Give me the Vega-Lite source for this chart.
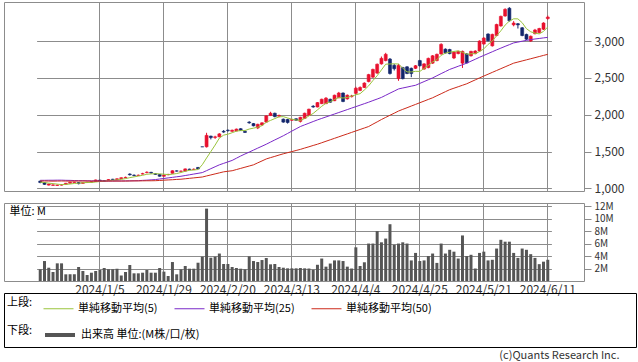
{
  "$schema": "https://vega.github.io/schema/vega-lite/v6.json",
  "background": "white",
  "padding": {"left": 3, "top": 1, "right": 0, "bottom": 0},
  "bounds": "flush",
  "spacing": 12,
  "config": {
    "font": "Noto Sans CJK JP",
    "view": {"stroke": "#8c8c8c", "strokeWidth": 1},
    "axis": {"gridColor": "#8c8c8c", "gridOpacity": 1, "gridWidth": 1, "tickColor": "#8c8c8c", "labelColor": "#333333", "labelFont": "Noto Sans CJK JP", "labelFontSize": 11, "domain": false},
    "legend": {"labelFont": "Noto Sans CJK JP", "labelFontSize": 11, "labelColor": "#000000", "titleFont": "Noto Sans CJK JP", "titleFontSize": 11, "titleFontWeight": "normal", "titleColor": "#000000", "padding": 0}
  },
  "title": {"text": "(c)Quants Research Inc.", "orient": "bottom", "anchor": "end", "fontSize": 11, "fontWeight": "normal", "color": "#333333", "offset": 2, "dx": -17},
  "data": {"values": [
    {"d":"2023/12/13","o":1100,"c":1080,"h":1105,"l":1070,"v":1.87,"ma5":1085,"ma25":1110,"ma50":1100},
    {"d":"2023/12/14","o":1080,"c":1055,"h":1085,"l":1050,"v":3.2,"ma5":1080,"ma25":1110,"ma50":1101},
    {"d":"2023/12/15","o":1045,"c":1060,"h":1065,"l":1040,"v":2.13,"ma5":1072,"ma25":1111,"ma50":1100},
    {"d":"2023/12/18","o":1042,"c":1048,"h":1055,"l":1035,"v":1.44,"ma5":1065,"ma25":1111,"ma50":1099},
    {"d":"2023/12/19","o":1040,"c":1045,"h":1052,"l":1035,"v":2.83,"ma5":1058,"ma25":1112,"ma50":1100},
    {"d":"2023/12/20","o":1045,"c":1050,"h":1058,"l":1040,"v":2.83,"ma5":1052,"ma25":1112,"ma50":1101},
    {"d":"2023/12/21","o":1055,"c":1070,"h":1075,"l":1050,"v":1.07,"ma5":1055,"ma25":1110,"ma50":1100},
    {"d":"2023/12/22","o":1070,"c":1085,"h":1090,"l":1065,"v":1.07,"ma5":1060,"ma25":1109,"ma50":1099},
    {"d":"2023/12/25","o":1082,"c":1086,"h":1092,"l":1078,"v":1.07,"ma5":1067,"ma25":1107,"ma50":1100},
    {"d":"2023/12/26","o":1080,"c":1065,"h":1085,"l":1055,"v":2.24,"ma5":1071,"ma25":1106,"ma50":1100},
    {"d":"2023/12/27","o":1068,"c":1080,"h":1085,"l":1065,"v":1.6,"ma5":1077,"ma25":1105,"ma50":1101},
    {"d":"2023/12/28","o":1080,"c":1085,"h":1090,"l":1075,"v":0.96,"ma5":1080,"ma25":1104,"ma50":1100},
    {"d":"2023/12/29","o":1084,"c":1090,"h":1095,"l":1080,"v":1.33,"ma5":1081,"ma25":1103,"ma50":1099},
    {"d":"2024/1/4","o":1095,"c":1115,"h":1120,"l":1090,"v":1.6,"ma5":1087,"ma25":1102,"ma50":1100},
    {"d":"2024/1/5","o":1112,"c":1100,"h":1118,"l":1095,"v":1.76,"ma5":1094,"ma25":1101,"ma50":1100},
    {"d":"2024/1/9","o":1105,"c":1100,"h":1110,"l":1095,"v":2.08,"ma5":1098,"ma25":1100,"ma50":1100},
    {"d":"2024/1/10","o":1105,"c":1120,"h":1125,"l":1100,"v":1.87,"ma5":1105,"ma25":1100,"ma50":1100},
    {"d":"2024/1/11","o":1125,"c":1120,"h":1130,"l":1115,"v":1.87,"ma5":1111,"ma25":1100,"ma50":1100},
    {"d":"2024/1/12","o":1120,"c":1130,"h":1138,"l":1115,"v":1.97,"ma5":1114,"ma25":1101,"ma50":1100},
    {"d":"2024/1/15","o":1132,"c":1145,"h":1150,"l":1128,"v":0.9,"ma5":1123,"ma25":1101,"ma50":1100},
    {"d":"2024/1/16","o":1145,"c":1150,"h":1160,"l":1140,"v":1.44,"ma5":1133,"ma25":1102,"ma50":1100},
    {"d":"2024/1/17","o":1195,"c":1185,"h":1205,"l":1175,"v":2.56,"ma5":1146,"ma25":1103,"ma50":1101},
    {"d":"2024/1/18","o":1180,"c":1175,"h":1190,"l":1165,"v":1.23,"ma5":1157,"ma25":1104,"ma50":1102},
    {"d":"2024/1/19","o":1175,"c":1180,"h":1188,"l":1170,"v":1.23,"ma5":1167,"ma25":1105,"ma50":1102},
    {"d":"2024/1/22","o":1195,"c":1200,"h":1212,"l":1190,"v":1.33,"ma5":1178,"ma25":1109,"ma50":1103},
    {"d":"2024/1/23","o":1215,"c":1220,"h":1232,"l":1205,"v":1.76,"ma5":1192,"ma25":1112,"ma50":1104},
    {"d":"2024/1/24","o":1218,"c":1210,"h":1225,"l":1200,"v":1.33,"ma5":1197,"ma25":1116,"ma50":1104},
    {"d":"2024/1/25","o":1200,"c":1190,"h":1208,"l":1185,"v":1.33,"ma5":1200,"ma25":1120,"ma50":1105},
    {"d":"2024/1/26","o":1190,"c":1165,"h":1195,"l":1160,"v":2.08,"ma5":1197,"ma25":1128,"ma50":1108},
    {"d":"2024/1/29","o":1165,"c":1180,"h":1188,"l":1160,"v":1.5,"ma5":1193,"ma25":1135,"ma50":1112},
    {"d":"2024/1/30","o":1185,"c":1190,"h":1198,"l":1180,"v":0.8,"ma5":1187,"ma25":1143,"ma50":1115},
    {"d":"2024/1/31","o":1205,"c":1240,"h":1245,"l":1200,"v":3.04,"ma5":1193,"ma25":1150,"ma50":1118},
    {"d":"2024/2/1","o":1238,"c":1235,"h":1245,"l":1228,"v":1.07,"ma5":1202,"ma25":1158,"ma50":1122},
    {"d":"2024/2/2","o":1232,"c":1235,"h":1242,"l":1225,"v":1.87,"ma5":1216,"ma25":1165,"ma50":1125},
    {"d":"2024/2/5","o":1235,"c":1265,"h":1270,"l":1230,"v":2.4,"ma5":1233,"ma25":1175,"ma50":1131},
    {"d":"2024/2/6","o":1262,"c":1255,"h":1268,"l":1248,"v":1.97,"ma5":1246,"ma25":1185,"ma50":1137},
    {"d":"2024/2/7","o":1256,"c":1260,"h":1272,"l":1250,"v":1.97,"ma5":1250,"ma25":1195,"ma50":1143},
    {"d":"2024/2/8","o":1285,"c":1265,"h":1290,"l":1260,"v":2.93,"ma5":1256,"ma25":1205,"ma50":1149},
    {"d":"2024/2/9","o":1565,"c":1565,"h":1565,"l":1565,"v":3.9,"ma5":1322,"ma25":1215,"ma50":1155},
    {"d":"2024/2/13","o":1565,"c":1720,"h":1755,"l":1555,"v":11.6,"ma5":1413,"ma25":1241,"ma50":1169},
    {"d":"2024/2/14","o":1710,"c":1690,"h":1715,"l":1665,"v":3.73,"ma5":1500,"ma25":1268,"ma50":1183},
    {"d":"2024/2/15","o":1692,"c":1700,"h":1715,"l":1672,"v":3.9,"ma5":1588,"ma25":1294,"ma50":1197},
    {"d":"2024/2/16","o":1700,"c":1740,"h":1750,"l":1695,"v":4.4,"ma5":1683,"ma25":1320,"ma50":1211},
    {"d":"2024/2/19","o":1775,"c":1765,"h":1792,"l":1755,"v":2.72,"ma5":1723,"ma25":1340,"ma50":1225},
    {"d":"2024/2/20","o":1790,"c":1785,"h":1800,"l":1770,"v":2.72,"ma5":1736,"ma25":1360,"ma50":1233},
    {"d":"2024/2/21","o":1775,"c":1790,"h":1798,"l":1768,"v":2.24,"ma5":1756,"ma25":1380,"ma50":1240},
    {"d":"2024/2/22","o":1780,"c":1805,"h":1812,"l":1775,"v":2.08,"ma5":1777,"ma25":1410,"ma50":1256},
    {"d":"2024/2/26","o":1810,"c":1785,"h":1818,"l":1780,"v":1.97,"ma5":1786,"ma25":1440,"ma50":1272},
    {"d":"2024/2/27","o":1775,"c":1760,"h":1785,"l":1752,"v":1.87,"ma5":1785,"ma25":1467,"ma50":1288},
    {"d":"2024/2/28","o":1900,"c":1890,"h":1912,"l":1878,"v":3.95,"ma5":1806,"ma25":1493,"ma50":1304},
    {"d":"2024/2/29","o":1880,"c":1850,"h":1888,"l":1842,"v":3.2,"ma5":1818,"ma25":1520,"ma50":1320},
    {"d":"2024/3/1","o":1820,"c":1870,"h":1878,"l":1805,"v":3.04,"ma5":1831,"ma25":1547,"ma50":1347},
    {"d":"2024/3/4","o":1860,"c":1890,"h":1898,"l":1852,"v":3.36,"ma5":1852,"ma25":1573,"ma50":1373},
    {"d":"2024/3/5","o":1900,"c":1985,"h":1992,"l":1895,"v":3.68,"ma5":1897,"ma25":1600,"ma50":1400},
    {"d":"2024/3/6","o":1990,"c":2020,"h":2040,"l":1982,"v":2.67,"ma5":1923,"ma25":1629,"ma50":1418},
    {"d":"2024/3/7","o":2020,"c":1975,"h":2028,"l":1965,"v":2.72,"ma5":1948,"ma25":1658,"ma50":1435},
    {"d":"2024/3/8","o":1980,"c":1990,"h":2002,"l":1965,"v":2.24,"ma5":1972,"ma25":1686,"ma50":1453},
    {"d":"2024/3/11","o":1940,"c":1900,"h":1948,"l":1892,"v":2.13,"ma5":1974,"ma25":1715,"ma50":1470},
    {"d":"2024/3/12","o":1935,"c":1895,"h":1945,"l":1880,"v":2.03,"ma5":1956,"ma25":1746,"ma50":1485},
    {"d":"2024/3/13","o":1925,"c":1935,"h":1945,"l":1915,"v":2.03,"ma5":1939,"ma25":1778,"ma50":1500},
    {"d":"2024/3/14","o":1945,"c":1925,"h":1952,"l":1918,"v":2.03,"ma5":1929,"ma25":1809,"ma50":1515},
    {"d":"2024/3/15","o":1910,"c":1965,"h":1972,"l":1895,"v":2.08,"ma5":1924,"ma25":1840,"ma50":1530},
    {"d":"2024/3/18","o":1950,"c":2020,"h":2028,"l":1945,"v":2.03,"ma5":1948,"ma25":1863,"ma50":1548},
    {"d":"2024/3/19","o":1990,"c":2075,"h":2082,"l":1985,"v":2.0,"ma5":1984,"ma25":1885,"ma50":1565},
    {"d":"2024/3/21","o":2115,"c":2105,"h":2130,"l":2095,"v":1.8,"ma5":2018,"ma25":1908,"ma50":1583},
    {"d":"2024/3/22","o":2105,"c":2165,"h":2172,"l":2100,"v":2.6,"ma5":2066,"ma25":1930,"ma50":1600},
    {"d":"2024/3/25","o":2150,"c":2210,"h":2218,"l":2145,"v":3.6,"ma5":2115,"ma25":1950,"ma50":1620},
    {"d":"2024/3/26","o":2150,"c":2225,"h":2240,"l":2145,"v":2.3,"ma5":2156,"ma25":1970,"ma50":1640},
    {"d":"2024/3/27","o":2210,"c":2170,"h":2218,"l":2162,"v":2.8,"ma5":2175,"ma25":1990,"ma50":1660},
    {"d":"2024/3/28","o":2190,"c":2265,"h":2272,"l":2185,"v":3.3,"ma5":2207,"ma25":2010,"ma50":1680},
    {"d":"2024/3/29","o":2230,"c":2295,"h":2310,"l":2225,"v":3.3,"ma5":2233,"ma25":2030,"ma50":1700},
    {"d":"2024/4/1","o":2295,"c":2180,"h":2302,"l":2170,"v":3.2,"ma5":2227,"ma25":2050,"ma50":1720},
    {"d":"2024/4/2","o":2215,"c":2265,"h":2275,"l":2205,"v":2.3,"ma5":2235,"ma25":2070,"ma50":1740},
    {"d":"2024/4/3","o":2245,"c":2255,"h":2270,"l":2235,"v":2.0,"ma5":2252,"ma25":2090,"ma50":1760},
    {"d":"2024/4/4","o":2290,"c":2360,"h":2380,"l":2280,"v":5.4,"ma5":2271,"ma25":2110,"ma50":1780},
    {"d":"2024/4/5","o":2330,"c":2370,"h":2385,"l":2320,"v":2.4,"ma5":2286,"ma25":2130,"ma50":1800},
    {"d":"2024/4/8","o":2370,"c":2430,"h":2440,"l":2362,"v":3.0,"ma5":2336,"ma25":2150,"ma50":1820},
    {"d":"2024/4/9","o":2450,"c":2545,"h":2555,"l":2440,"v":6.0,"ma5":2392,"ma25":2170,"ma50":1840},
    {"d":"2024/4/10","o":2510,"c":2615,"h":2625,"l":2500,"v":6.0,"ma5":2464,"ma25":2192,"ma50":1872},
    {"d":"2024/4/11","o":2565,"c":2685,"h":2695,"l":2555,"v":8.0,"ma5":2529,"ma25":2213,"ma50":1903},
    {"d":"2024/4/12","o":2690,"c":2765,"h":2790,"l":2680,"v":6.2,"ma5":2608,"ma25":2235,"ma50":1935},
    {"d":"2024/4/15","o":2735,"c":2820,"h":2840,"l":2725,"v":6.8,"ma5":2686,"ma25":2264,"ma50":1964},
    {"d":"2024/4/16","o":2755,"c":2560,"h":2770,"l":2545,"v":9.1,"ma5":2689,"ma25":2293,"ma50":1993},
    {"d":"2024/4/17","o":2670,"c":2625,"h":2690,"l":2600,"v":5.8,"ma5":2691,"ma25":2321,"ma50":2021},
    {"d":"2024/4/18","o":2490,"c":2670,"h":2690,"l":2460,"v":6.0,"ma5":2688,"ma25":2350,"ma50":2050},
    {"d":"2024/4/19","o":2640,"c":2490,"h":2650,"l":2480,"v":6.2,"ma5":2633,"ma25":2363,"ma50":2073},
    {"d":"2024/4/22","o":2650,"c":2560,"h":2660,"l":2550,"v":6.0,"ma5":2581,"ma25":2375,"ma50":2095},
    {"d":"2024/4/23","o":2630,"c":2560,"h":2640,"l":2510,"v":3.3,"ma5":2581,"ma25":2388,"ma50":2118},
    {"d":"2024/4/24","o":2630,"c":2665,"h":2675,"l":2620,"v":4.5,"ma5":2589,"ma25":2400,"ma50":2140},
    {"d":"2024/4/25","o":2735,"c":2665,"h":2745,"l":2655,"v":3.2,"ma5":2588,"ma25":2425,"ma50":2163},
    {"d":"2024/4/26","o":2620,"c":2690,"h":2700,"l":2610,"v":3.3,"ma5":2628,"ma25":2450,"ma50":2185},
    {"d":"2024/4/30","o":2640,"c":2765,"h":2775,"l":2630,"v":4.0,"ma5":2669,"ma25":2475,"ma50":2208},
    {"d":"2024/5/1","o":2700,"c":2800,"h":2810,"l":2690,"v":4.4,"ma5":2717,"ma25":2500,"ma50":2230},
    {"d":"2024/5/2","o":2735,"c":2820,"h":2830,"l":2725,"v":2.9,"ma5":2748,"ma25":2529,"ma50":2258},
    {"d":"2024/5/7","o":2825,"c":2955,"h":2970,"l":2815,"v":6.0,"ma5":2806,"ma25":2558,"ma50":2285},
    {"d":"2024/5/8","o":2890,"c":2840,"h":2900,"l":2830,"v":4.4,"ma5":2836,"ma25":2586,"ma50":2313},
    {"d":"2024/5/9","o":2885,"c":2830,"h":2895,"l":2820,"v":5.0,"ma5":2849,"ma25":2615,"ma50":2340},
    {"d":"2024/5/10","o":2770,"c":2850,"h":2858,"l":2755,"v":4.7,"ma5":2859,"ma25":2636,"ma50":2360},
    {"d":"2024/5/13","o":2830,"c":2860,"h":2868,"l":2820,"v":3.6,"ma5":2867,"ma25":2658,"ma50":2380},
    {"d":"2024/5/14","o":2700,"c":2860,"h":2870,"l":2635,"v":7.3,"ma5":2848,"ma25":2679,"ma50":2400},
    {"d":"2024/5/15","o":2825,"c":2705,"h":2835,"l":2695,"v":4.0,"ma5":2821,"ma25":2700,"ma50":2420},
    {"d":"2024/5/16","o":2800,"c":2860,"h":2868,"l":2790,"v":4.2,"ma5":2827,"ma25":2727,"ma50":2447},
    {"d":"2024/5/17","o":2830,"c":2865,"h":2875,"l":2820,"v":2.0,"ma5":2830,"ma25":2753,"ma50":2473},
    {"d":"2024/5/20","o":2865,"c":3000,"h":3010,"l":2858,"v":4.5,"ma5":2858,"ma25":2780,"ma50":2500},
    {"d":"2024/5/21","o":2960,"c":3040,"h":3055,"l":2950,"v":4.7,"ma5":2894,"ma25":2805,"ma50":2525},
    {"d":"2024/5/22","o":3095,"c":3005,"h":3105,"l":2995,"v":3.3,"ma5":2954,"ma25":2830,"ma50":2550},
    {"d":"2024/5/23","o":2935,"c":3090,"h":3100,"l":2925,"v":3.4,"ma5":3000,"ma25":2855,"ma50":2575},
    {"d":"2024/5/24","o":3075,"c":3225,"h":3235,"l":3065,"v":5.2,"ma5":3072,"ma25":2880,"ma50":2600},
    {"d":"2024/5/27","o":3205,"c":3335,"h":3345,"l":3195,"v":6.6,"ma5":3139,"ma25":2904,"ma50":2625},
    {"d":"2024/5/28","o":3340,"c":3430,"h":3445,"l":3330,"v":6.3,"ma5":3217,"ma25":2928,"ma50":2650},
    {"d":"2024/5/29","o":3445,"c":3275,"h":3460,"l":3265,"v":6.3,"ma5":3271,"ma25":2951,"ma50":2675},
    {"d":"2024/5/30","o":3220,"c":3245,"h":3270,"l":3200,"v":4.5,"ma5":3302,"ma25":2975,"ma50":2700},
    {"d":"2024/5/31","o":3235,"c":3220,"h":3245,"l":3170,"v":3.7,"ma5":3301,"ma25":2986,"ma50":2715},
    {"d":"2024/6/3","o":3180,"c":3075,"h":3190,"l":3065,"v":5.2,"ma5":3249,"ma25":2998,"ma50":2730},
    {"d":"2024/6/4","o":3090,"c":3025,"h":3100,"l":3015,"v":5.0,"ma5":3168,"ma25":3009,"ma50":2745},
    {"d":"2024/6/5","o":3000,"c":3065,"h":3075,"l":2990,"v":4.3,"ma5":3126,"ma25":3020,"ma50":2760},
    {"d":"2024/6/6","o":3100,"c":3150,"h":3165,"l":3090,"v":3.7,"ma5":3107,"ma25":3028,"ma50":2775},
    {"d":"2024/6/7","o":3115,"c":3170,"h":3180,"l":3105,"v":2.7,"ma5":3097,"ma25":3035,"ma50":2790},
    {"d":"2024/6/10","o":3160,"c":3245,"h":3255,"l":3150,"v":3.1,"ma5":3131,"ma25":3043,"ma50":2805},
    {"d":"2024/6/11","o":3305,"c":3325,"h":3345,"l":3290,"v":3.4,"ma5":3191,"ma25":3050,"ma50":2820}
  ]},
  "vconcat": [
    {
      "width": 580,
      "height": 189,
      "encoding": {
        "x": {"field": "d", "type": "ordinal", "sort": null, "title": null,
              "scale": {"paddingInner": 0.3, "paddingOuter": 0.5, "range": [32.6, 547.4]},
              "axis": {"values": ["2024/1/5","2024/1/29","2024/2/20","2024/3/13","2024/4/4","2024/4/25","2024/5/21","2024/6/11"], "labels": false, "ticks": false, "grid": true, "bandPosition": 0.5}}
      },
      "layer": [
        {
          "mark": {"type": "rule", "strokeWidth": 1},
          "encoding": {
            "y": {"field": "l", "type": "quantitative", "title": null,
                  "scale": {"domain": [965, 3530], "nice": false, "zero": false},
                  "axis": {"orient": "right", "values": [1000,1500,2000,2500,3000], "format": ",d", "grid": true, "tickSize": 7, "labelPadding": 3, "labelFontSize": 12}},
            "y2": {"field": "h"},
            "color": {"condition": {"test": "datum.c > datum.o", "value": "#e8102e"}, "value": "#13266b"}
          }
        },
        {
          "mark": {"type": "bar", "strokeWidth": 0.6},
          "encoding": {
            "y": {"field": "o", "type": "quantitative", "scale": {"domain": [965, 3530], "nice": false, "zero": false}},
            "y2": {"field": "c"},
            "color": {"condition": {"test": "datum.c > datum.o", "value": "#e8102e"}, "value": "#13266b"},
            "stroke": {"condition": {"test": "datum.c > datum.o", "value": "#e8102e"}, "value": "#13266b"}
          }
        },
        {
          "transform": [{"fold": ["ma5", "ma25", "ma50"], "as": ["series", "value"]}],
          "mark": {"type": "line", "strokeWidth": 1},
          "encoding": {
            "y": {"field": "value", "type": "quantitative", "scale": {"domain": [965, 3530], "nice": false, "zero": false}},
            "color": {"field": "series", "type": "nominal",
                      "scale": {"domain": ["ma5", "ma25", "ma50"], "range": ["#9ac43c", "#7a28c8", "#cc2a1a"]},
                      "legend": {"orient": "none", "legendX": 3, "legendY": 291, "direction": "horizontal", "title": "上段:", "titleOrient": "left", "titleAnchor": "middle", "titleBaseline": "middle", "titlePadding": 10, "symbolType": "stroke", "symbolSize": 900, "symbolStrokeWidth": 1, "columnPadding": 14, "labelOffset": 4,
                                 "labelExpr": "datum.label == 'ma5' ? '単純移動平均(5)' : datum.label == 'ma25' ? '単純移動平均(25)' : '単純移動平均(50)'"}}
          }
        }
      ]
    },
    {
      "width": 580,
      "height": 78,
      "mark": {"type": "bar"},
      "encoding": {
        "x": {"field": "d", "type": "ordinal", "sort": null, "title": null,
              "scale": {"paddingInner": 0.3, "paddingOuter": 0.5, "range": [32.6, 547.4]},
              "axis": {"values": ["2024/1/5","2024/1/29","2024/2/20","2024/3/13","2024/4/4","2024/4/25","2024/5/21","2024/6/11"], "ticks": false, "grid": true, "bandPosition": 0.5, "labelAngle": 0, "labelPadding": 3, "labelFontSize": 12, "labelOverlap": false, "labelFlush": false}},
        "y": {"field": "v", "type": "quantitative",
              "scale": {"domain": [0, 12.5], "nice": false},
              "axis": {"orient": "right", "values": [2,4,6,8,10,12], "labelExpr": "datum.value + 'M'", "grid": true, "tickSize": 7, "labelPadding": 3, "labelFontSize": 10, "labelOverlap": false,
                       "title": "単位: M", "titleAngle": 0, "titleAlign": "left", "titleBaseline": "top", "titleX": -575, "titleY": 2, "titleFontSize": 11, "titleFontWeight": "normal", "titleColor": "#000000"}},
        "color": {"datum": "出来高 単位:(M株/口/枚)", "type": "nominal",
                  "scale": {"range": ["#555555"]},
                  "legend": {"orient": "none", "legendX": 3, "legendY": 115, "title": "下段:", "titleOrient": "left", "titleAnchor": "middle", "titleBaseline": "middle", "titlePadding": 10, "symbolType": "stroke", "symbolSize": 900, "labelOffset": 4,
                             "encode": {"symbols": {"update": {"stroke": {"value": "#555555"}, "strokeWidth": {"value": 4}}}}}}
      }
    },
    {
      "width": 632,
      "height": 54,
      "view": {"stroke": "#000000"},
      "mark": {"type": "point", "opacity": 0},
      "encoding": {}
    }
  ],
  "resolve": {
    "scale": {"x": "independent", "y": "independent", "color": "independent"},
    "axis": {"x": "independent", "y": "independent"},
    "legend": {"color": "independent"}
  }
}
